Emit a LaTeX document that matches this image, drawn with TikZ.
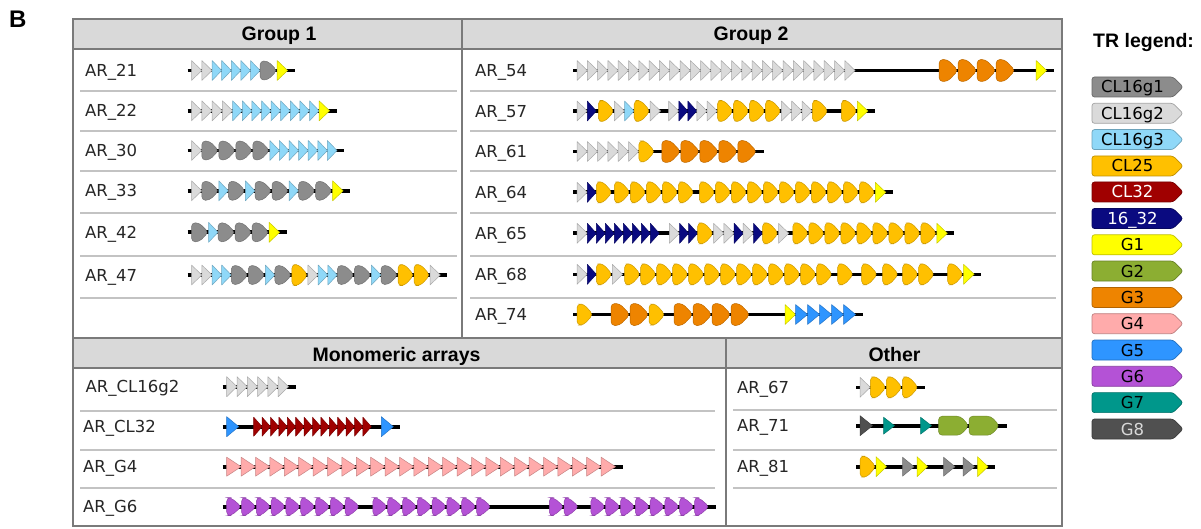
\documentclass[tikz,border=0pt]{standalone}
\usepackage{fontspec}
\setmainfont{DejaVu Sans}
\newfontfamily\hdfont{Liberation Sans}
\definecolor{cA}{HTML}{8C8C8C}
\definecolor{cB}{HTML}{DADADA}
\definecolor{cC}{HTML}{8FD8F8}
\definecolor{cD}{HTML}{FFC000}
\definecolor{cE}{HTML}{A00000}
\definecolor{cN}{HTML}{0A0A80}
\definecolor{cY}{HTML}{FFFF00}
\definecolor{cV}{HTML}{8CAE32}
\definecolor{cO}{HTML}{EE8400}
\definecolor{cP}{HTML}{FFABAB}
\definecolor{cS}{HTML}{2E95FF}
\definecolor{cU}{HTML}{B452D6}
\definecolor{cT}{HTML}{00978B}
\definecolor{cK}{HTML}{505050}
\definecolor{frame}{HTML}{7A7A7A}
\definecolor{sep}{HTML}{C3C3C3}
\definecolor{hdr}{HTML}{D9D9D9}
\newcommand\lfont{\fontsize{16.5}{18}\selectfont}
\newcommand\hfont{\hdfont\bfseries\fontsize{19.5}{22}\selectfont}
\newcommand\gfont{\fontsize{16.5}{18}\selectfont}
\tikzset{
 trk/.style={line width=3.6pt, black},
 frm/.style={draw=frame, line width=1.2pt},
 sepl/.style={draw=sep, line width=2pt},
 lab/.style={anchor=base west, inner sep=0pt, font=\lfont, text=black!85},
 hd/.style={anchor=base, inner sep=0pt, font=\hfont},
 legt/.style={anchor=base, inner sep=0pt, font=\gfont},
}
% shapes
\newcommand\ztri[5]{\filldraw[fill=#5,draw=#5!78!black,line width=0.5pt,line join=round] (#1,#2-#4/2) -- (#1+#3,#2) -- (#1,#2+#4/2) -- cycle;}
\newcommand\zblob[6]{\filldraw[fill=#5,draw=#5!80!black,line width=0.5pt,rounded corners=3.8pt] (#1,#2) -- (#1,#2-#4/2) -- (#1+#6*#3,#2-#4/2) -- (#1+#3,#2) -- (#1+#6*#3,#2+#4/2) -- (#1,#2+#4/2) -- cycle;}
% widths
\def\zwA{17}\def\zwB{10.3}\def\zwC{9.6}\def\zwD{16}\def\zwE{8.4}\def\zwN{9}
\def\zwY{10.5}\def\zwV{30.5}\def\zwO{19}\def\zwP{14.4}\def\zwS{12}\def\zwU{14.8}
\def\zwT{11}\def\zwK{12.5}\def\zwa{11.5}\def\zwg{\zv}
% drawers
\def\zdA#1{\zblob{\cx}{#1}{\zwA}{19}{cA}{0.45}}
\def\zdB#1{\ztri{\cx}{#1}{\zwB}{20}{cB}}
\def\zdC#1{\ztri{\cx}{#1}{\zwC}{20}{cC}}
\def\zdD#1{\zblob{\cx}{#1}{\zwD}{21}{cD}{0.42}}
\def\zdE#1{\ztri{\cx}{#1}{\zwE}{19}{cE}}
\def\zdN#1{\ztri{\cx}{#1}{\zwN}{20}{cN}}
\def\zdY#1{\ztri{\cx}{#1}{\zwY}{20}{cY}}
\def\zdV#1{\zblob{\cx}{#1}{\zwV}{19}{cV}{0.72}}
\def\zdO#1{\zblob{\cx}{#1}{\zwO}{22}{cO}{0.45}}
\def\zdP#1{\ztri{\cx}{#1}{\zwP}{19}{cP}}
\def\zdS#1{\ztri{\cx}{#1}{\zwS}{20}{cS}}
\def\zdU#1{\zblob{\cx}{#1}{\zwU}{18}{cU}{0.3}}
\def\zdT#1{\ztri{\cx}{#1}{\zwT}{17}{cT}}
\def\zdK#1{\ztri{\cx}{#1}{\zwK}{20}{cK}}
\def\zda#1{\ztri{\cx}{#1}{\zwa}{19}{cA}}
\def\zdg#1{}
\newif\ifzdraw
\newcommand\adv[1]{\pgfmathsetmacro\ztmp{\cx+#1}\xdef\cx{\ztmp}}
\newcommand\zitem[1]{\edef\zw{\csname zw\zk\endcsname}\ifzdraw\csname zd\zk\endcsname{#1}\fi\adv{\zw}}
\newcommand\zproc[2]{%
  \foreach \zk/\zv in {#2}{%
    \ifx\zk\zv \zitem{#1}%
    \else
      \if g\zk \zitem{#1}%
      \else \foreach \zi in {1,...,\zv}{\zitem{#1}}%
      \fi
    \fi}}
\newcommand\arr[3]{%
  \xdef\cx{#1}\zdrawfalse\zproc{#2}{#3}%
  \draw[trk] (#1-4,#2) -- (\cx+7,#2);
  \xdef\cx{#1}\zdrawtrue\zproc{#2}{#3}}
\newcommand\leg[5]{%
  \filldraw[fill=#3,draw=#3!75!black,line width=0.7pt,rounded corners=2.5pt] (1183,#2) -- (1173,#2-10) -- (1092,#2-10) -- (1092,#2+10) -- (1173,#2+10) -- cycle;
  \node[legt,text=#5] (#1) at (1132.5,#2+6) {#4};}
\begin{document}
\begin{tikzpicture}[x=1pt,y=-1pt]
\useasboundingbox (0,0) rectangle (1201,529);
\fill[white] (0,0) rectangle (1201,529);
% panels
\fill[hdr] (73,19) rectangle (1062,49);
\fill[hdr] (73,338) rectangle (1062,368);
\draw[frm] (73,19) rectangle (1062,338);
\draw[frm] (462,19) -- (462,338);
\draw[frm] (73,49) -- (1062,49);
\draw[frm] (73,338) rectangle (1062,526);
\draw[frm] (726,338) -- (726,526);
\draw[frm] (73,368) -- (1062,368);
\node[anchor=base west,inner sep=0pt,font=\hdfont\bfseries\fontsize{24}{26}\selectfont] (blab) at (9,28) {B};
\node[hd] (h1) at (279,41) {Group 1};
\node[hd] (h2) at (751,41) {Group 2};
\node[hd] (h3) at (396.5,361) {Monomeric arrays};
\node[hd] (h4) at (894.5,361) {Other};
\node[anchor=base west,inner sep=0pt,font=\hfont] (trl) at (1093,47.5) {TR legend:};
% separators
\foreach \yy in {91.5,131.5,171.5,213.5,256,298}{\draw[sepl] (80,\yy) -- (457,\yy);}
\foreach \yy in {91.5,131.5,171.5,213.5,256,297.7}{\draw[sepl] (470,\yy) -- (1056,\yy);}
\foreach \yy in {411,449.5,488}{\draw[sepl] (80,\yy) -- (715,\yy);}
\foreach \yy in {410,449.5,488}{\draw[sepl] (733,\yy) -- (1057,\yy);}
% Group 1
\node[lab] (r21) at (85,76.7) {AR\_21};
\node[lab] (r22) at (85,117) {AR\_22};
\node[lab] (r30) at (85,156.7) {AR\_30};
\node[lab] (r33) at (85,197) {AR\_33};
\node[lab] (r42) at (85,238.5) {AR\_42};
\node[lab] (r47) at (85,281.2) {AR\_47};
\arr{191.5}{70.5}{B/2,C/5,A,Y}
\arr{191.5}{110.8}{B/4,C/9,Y}
\arr{191.5}{150.5}{B,A/4,C/7}
\arr{191.5}{190.8}{B,A,C,A,C,A/2,C,A/2,Y}
\arr{191.5}{232.3}{A,C,A/3,Y}
\arr{191.5}{275}{B/2,C/2,A/2,C,A,D,B,C/2,A/2,C,A,D/2,B}
% Group 2
\node[lab] (r54) at (475,76.7) {AR\_54};
\node[lab] (r57) at (475,117.2) {AR\_57};
\node[lab] (r61) at (475,157.7) {AR\_61};
\node[lab] (r64) at (475,198.5) {AR\_64};
\node[lab] (r65) at (475,239.5) {AR\_65};
\node[lab] (r68) at (475,280.5) {AR\_68};
\node[lab] (r74) at (475,320.7) {AR\_74};
\arr{577}{70.5}{B/27,g/84,O/4,g/21,Y}
\arr{577}{111}{B,N,g/2,D,B,C,D,B,g/8,B,N/2,B/2,D/4,B/3,D,g/13,D,Y}
\arr{577}{151.5}{B/6,D,g/7,O/5}
\arr{577}{192.3}{B,N,D,g/2,D/5,g/5,D/11,Y}
\arr{577}{233.3}{B,N/8,g/10,B,N/2,D,B/2,N,B,N,D,B,g/4,D/9,Y}
\arr{577}{274.3}{B,N,D,B,g/2,D/13,g/5,D,g/8,D,g/5,D,g/4,D/2,g/13,D,Y}
\arr{577}{314.5}{D,g/18,O/2,D,g/9,O/4,g/35,Y,S/5}
% Monomeric
\node[lab] (rm1) at (85.5,392.9) {AR\_CL16g2};
\node[lab] (rm2) at (83,432.9) {AR\_CL32};
\node[lab] (rm3) at (83,472.9) {AR\_G4};
\node[lab] (rm4) at (83,512.9) {AR\_G6};
\arr{226.7}{386.7}{B/6}
\arr{226.7}{426.7}{S,g/15,E/14,g/10,S}
\arr{226.7}{466.7}{P/27}
\arr{226.7}{506.7}{U/9,g/13,U/8,g/58,U/2,g/12,U/8}
% Other
\node[lab] (r67) at (737,393.5) {AR\_67};
\node[lab] (r71) at (737,431.9) {AR\_71};
\node[lab] (r81) at (737,472.9) {AR\_81};
\arr{860}{387.3}{B,D/3}
\arr{860}{425.7}{K,g/11,T,g/26,T,g/7,V/2}
\arr{860}{466.7}{D,Y,g/16,a,g/3,Y,g/16,a,g/8,a,g/3,Y}
% legend
\leg{lg1}{87}{cA}{CL16g1}{black}
\leg{lg2}{113.3}{cB}{CL16g2}{black}
\leg{lg3}{139.6}{cC}{CL16g3}{black}
\leg{lg4}{166}{cD}{CL25}{black}
\leg{lg5}{192}{cE}{CL32}{white}
\leg{lg6}{218.5}{cN}{16\_32}{white}
\leg{lg7}{244.8}{cY}{G1}{black}
\leg{lg8}{271}{cV}{G2}{black}
\leg{lg9}{297.4}{cO}{G3}{black}
\leg{lg10}{323.7}{cP}{G4}{black}
\leg{lg11}{350}{cS}{G5}{black}
\leg{lg12}{376.3}{cU}{G6}{black}
\leg{lg13}{402.6}{cT}{G7}{black}
\leg{lg14}{429}{cK}{G8}{white!85!black}
\end{tikzpicture}
\end{document}
